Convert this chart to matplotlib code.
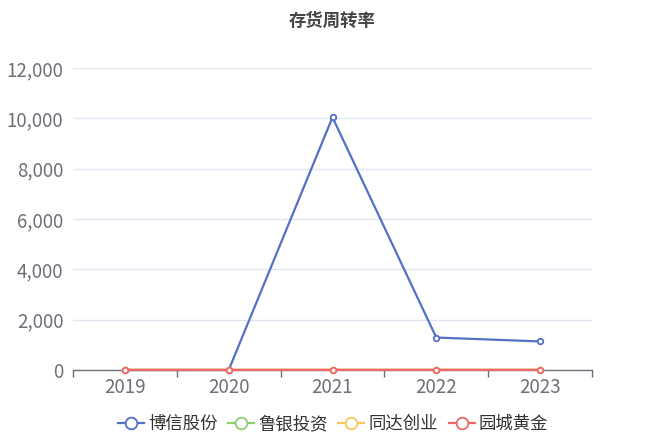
import matplotlib
matplotlib.use("Agg")
import matplotlib.pyplot as plt
from matplotlib.ticker import FuncFormatter, FixedLocator

plt.rcParams['font.family'] = ['Noto Sans CJK SC', 'DejaVu Sans']

years = ["2019", "2020", "2021", "2022", "2023"]
boxin = [0, 0, 10040, 1290, 1135]
luyin = [3.2, 3.5, 3.8, 4.1, 4.0]
tongda = [2.5, 2.8, 3.0, 3.3, 3.1]
yuancheng = [4.0, 4.5, 5.2, 6.0, 5.5]

series_names = ["博信股份", "鲁银投资", "同达创业", "园城黄金"]
series_vals = [boxin, luyin, tongda, yuancheng]
colors = ["#5470c6", "#91cc75", "#fac858", "#ee6666"]

fig = plt.figure(figsize=(6.48, 4.32), dpi=100)
ax = fig.add_axes([73 / 648, 1 - 370 / 432, 519 / 648, 302 / 432])

x = list(range(len(years)))
handles = []
for name, vals, c in zip(series_names, series_vals, colors):
    h, = ax.plot(x, vals, color=c, lw=1.6, marker="o", ms=4,
                 mfc="white", mec=c, mew=1.3, label=name, zorder=3,
                 clip_on=False)
    handles.append(h)

ax.set_xlim(-0.5, len(years) - 0.5)
ax.set_ylim(0, 12000)
ax.set_yticks(range(0, 12001, 2000))
ax.yaxis.set_major_formatter(FuncFormatter(lambda v, p: f"{int(v):,}"))
ax.set_xticks(x)
ax.set_xticklabels(years)
ax.xaxis.set_minor_locator(FixedLocator([i - 0.5 for i in range(len(years) + 1)]))

ax.grid(axis="y", color="#e0e6f1", lw=1)
ax.set_axisbelow(True)
for s in ["top", "right", "left"]:
    ax.spines[s].set_visible(False)
ax.spines["bottom"].set_color("#6e7079")
ax.spines["bottom"].set_linewidth(1)

ax.tick_params(axis="y", length=0, labelsize=13.5, labelcolor="#6e7079", pad=7)
ax.tick_params(axis="x", which="major", length=0, labelsize=13.5,
               labelcolor="#6e7079", pad=5)
ax.tick_params(axis="x", which="minor", length=5, color="#6e7079", width=1)

fig.text(332 / 648, 1 - 21 / 432, "存货周转率", ha="center", va="center",
         fontsize=12.5, fontweight="bold", color="#464646")

fig.legend(handles=handles, loc="center", bbox_to_anchor=(333 / 648, 1 - 424 / 432),
           ncol=4, frameon=False, fontsize=12.5, handlelength=1.5,
           handletextpad=0.25, columnspacing=0.6, labelcolor="#333333",
           markerscale=2.1)

fig.savefig("out.png", dpi=100)
